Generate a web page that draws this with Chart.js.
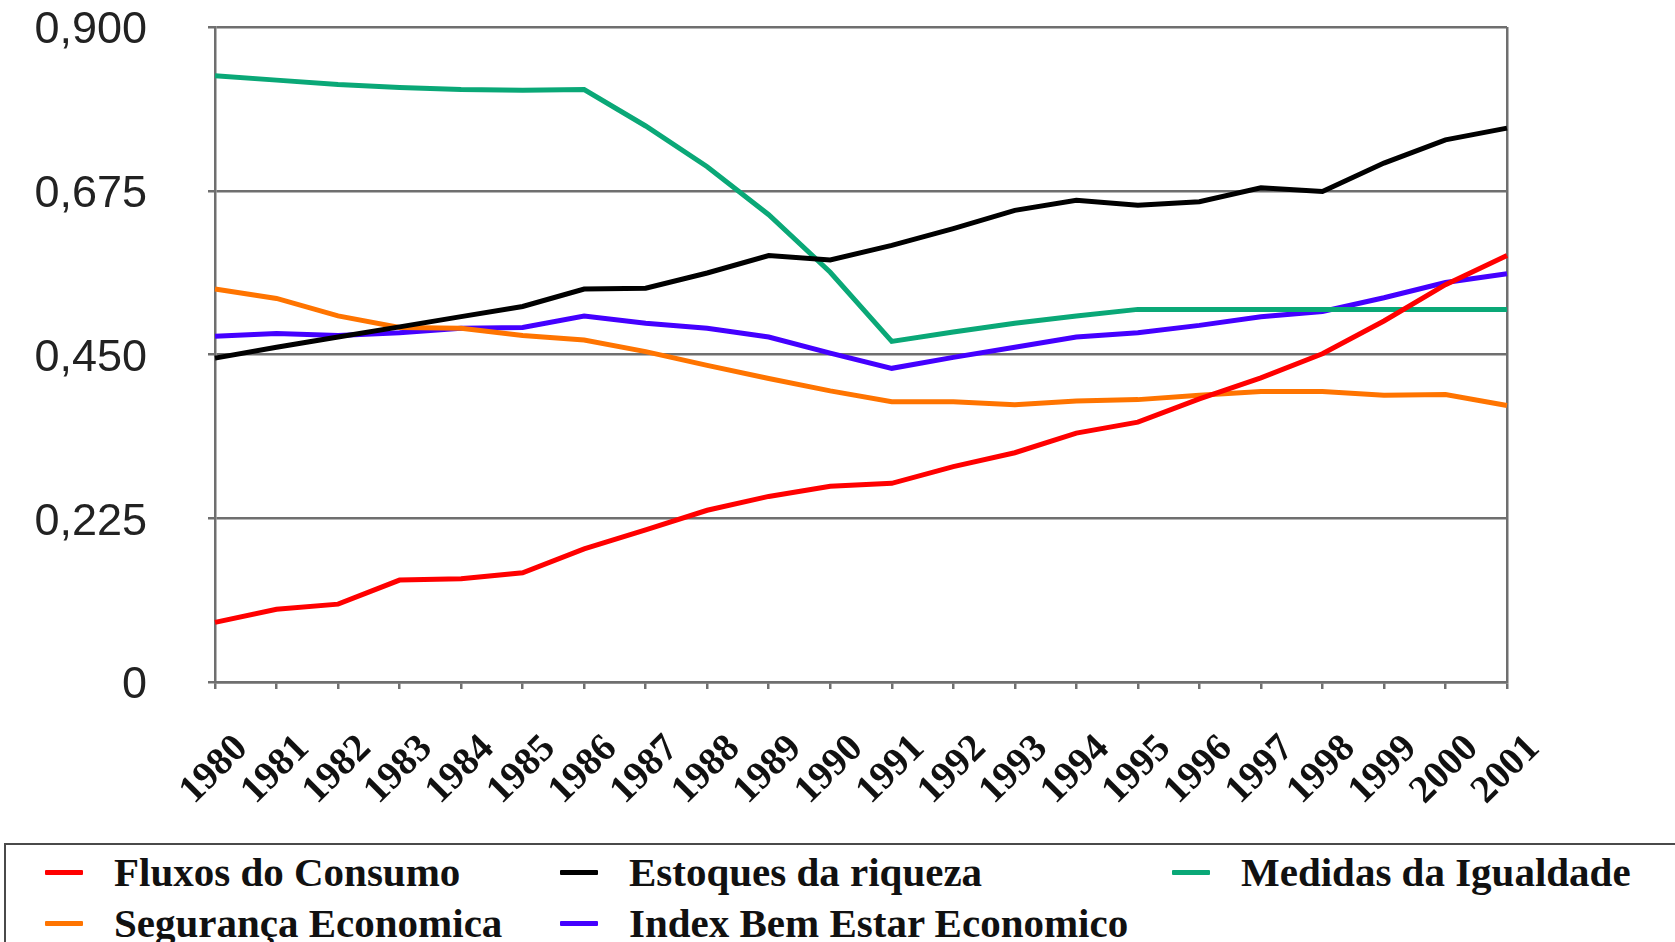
<!DOCTYPE html>
<html>
<head>
<meta charset="utf-8">
<script src="https://cdn.jsdelivr.net/npm/chart.js@4.4.1/dist/chart.umd.min.js"></script>
<style>
  html, body { margin: 0; padding: 0; background: #fff; width: 1675px; height: 942px; overflow: hidden; }
  #wrap { position: absolute; left: 0; top: -61px; width: 1675px; height: 903px; }
  #legend { position: absolute; left: 4px; top: 843px; width: 1700px; height: 120px;
            border: 2px solid #4a4a4a; box-sizing: border-box; background: #fff; }
  .item { position: absolute; height: 50px; display: flex; align-items: center;
          font-family: "Liberation Serif", "Times New Roman", serif; font-weight: bold;
          font-size: 41px; color: #111; white-space: nowrap; }
  .swatch { display: inline-block; width: 38px; height: 5px; margin-right: 31px; border-radius: 1px; }
</style>
</head>
<body>
<div id="wrap"><canvas id="c" width="1675" height="903"></canvas></div>
<div id="legend"></div>
<script>
const years = ['1980','1981','1982','1983','1984','1985','1986','1987','1988','1989','1990',
               '1991','1992','1993','1994','1995','1996','1997','1998','1999','2000','2001'];
const yTickLabels = ['0','0,225','0,450','0,675','0,900'];

const fluxosConsumo = [0.082,0.100,0.107,0.140,0.142,0.150,0.183,0.209,0.236,0.255,0.269,
                       0.273,0.296,0.315,0.342,0.357,0.389,0.418,0.451,0.496,0.546,0.586];
const estoquesRiqueza = [0.445,0.460,0.474,0.488,0.502,0.516,0.540,0.541,0.562,0.586,0.580,
                         0.600,0.623,0.648,0.662,0.655,0.660,0.679,0.674,0.713,0.745,0.761];
const medidasIgualdade = [0.833,0.827,0.821,0.817,0.814,0.813,0.814,0.764,0.708,0.642,0.563,
                          0.468,0.481,0.493,0.503,0.512,0.512,0.512,0.512,0.512,0.512,0.512];
const segurancaEconomica = [0.540,0.527,0.503,0.487,0.486,0.476,0.470,0.454,0.435,0.417,0.400,
                            0.385,0.385,0.381,0.386,0.388,0.394,0.399,0.399,0.394,0.395,0.380];
const indexBemEstar = [0.475,0.479,0.476,0.480,0.486,0.487,0.503,0.493,0.486,0.474,0.452,
                       0.431,0.446,0.460,0.474,0.480,0.490,0.502,0.509,0.528,0.549,0.561];

const seriesNames = ['Fluxos do Consumo','Estoques da riqueza','Medidas da Igualdade',
                     'Segurança Economica','Index Bem Estar Economico'];
const seriesColors = ['#ff0000','#000000','#0aa877','#ff7400','#4400ff'];
const seriesData = [fluxosConsumo, estoquesRiqueza, medidasIgualdade, segurancaEconomica, indexBemEstar];

const gridColor = '#6f6f6f';

const chart = new Chart(document.getElementById('c'), {
  type: 'line',
  data: {
    labels: years,
    datasets: seriesData.map((d, i) => ({
      label: seriesNames[i],
      data: d,
      borderColor: seriesColors[i],
      backgroundColor: seriesColors[i],
      borderWidth: 5,
      pointRadius: 0,
      tension: 0,
      fill: false
    }))
  },
  options: {
    responsive: false,
    animation: false,
    devicePixelRatio: 1,
    layout: { padding: { top: 27, right: 168, left: 0, bottom: 0 } },
    plugins: { legend: { display: false }, tooltip: { enabled: false } },
    scales: {
      x: {
        offset: false,
        afterFit: s => { s.height = 160; },
        grid: {
          drawOnChartArea: true,
          color: ctx => (ctx.index === years.length - 1 ? gridColor : 'rgba(0,0,0,0)'),
          tickColor: gridColor,
          tickLength: 7,
          lineWidth: 2.5
        },
        border: { display: true, color: gridColor, width: 2.5 },
        ticks: {
          autoSkip: false,
          minRotation: 45,
          maxRotation: 45,
          padding: 37,
          labelOffset: 27,
          color: '#111',
          font: { family: '"Liberation Serif", "Times New Roman", serif', weight: 'bold', size: 39 }
        }
      },
      y: {
        min: 0,
        max: 0.9,
        afterFit: s => { s.width = 215; },
        afterBuildTicks: s => {
          s.ticks = yTickLabels.map((t, i) => ({ value: i * 0.225 }));
        },
        grid: { color: gridColor, lineWidth: 2.5, tickLength: 7, tickColor: gridColor },
        border: { display: true, color: gridColor, width: 2.5 },
        ticks: {
          padding: 61,
          labelOffset: 4,
          color: '#222',
          font: { family: '"Liberation Sans", Arial, sans-serif', size: 45 },
          callback: (v, i) => yTickLabels[i]
        }
      }
    }
  }
});

// HTML legend built from the chart's own legend items
const legendEl = document.getElementById('legend');
const positions = [
  { left: 39, top: 0 }, { left: 554, top: 0 }, { left: 1166, top: 0 },
  { left: 39, top: 51 }, { left: 554, top: 51 }
];
chart.options.plugins.legend.labels.generateLabels(chart).forEach((item, i) => {
  const div = document.createElement('div');
  div.className = 'item';
  div.style.left = positions[i].left + 'px';
  div.style.top = (positions[i].top + 2) + 'px';
  const sw = document.createElement('span');
  sw.className = 'swatch';
  sw.style.background = item.strokeStyle;
  div.appendChild(sw);
  div.appendChild(document.createTextNode(item.text));
  legendEl.appendChild(div);
});
</script>
</body>
</html>
